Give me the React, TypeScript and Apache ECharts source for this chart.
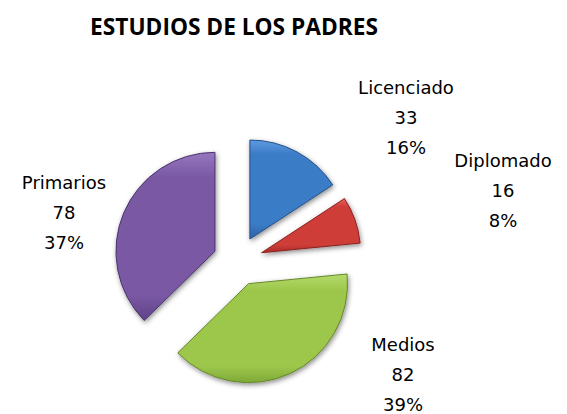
import React, { useEffect, useRef } from "react";
import * as echarts from "echarts";

const titleText = "ESTUDIOS DE LOS PADRES";
const categories = ["Licenciado", "Diplomado", "Medios", "Primarios"];
const values = [33, 16, 82, 78];
const baseColors = ["#3B7BC6", "#CF3D39", "#9CC74B", "#7A58A4"];
const lightColors = ["#5E9AE0", "#E8625E", "#B5DB6C", "#9677BF"];
const darkColors = ["#2C62A6", "#A92C29", "#7FA838", "#5F4288"];
const borderColors = ["#24508A", "#8A2220", "#66882A", "#4B346C"];

// label anchor positions (layout only)
const labelPos: [number, number][] = [
  [406, 117],
  [503, 190],
  [403, 374],
  [64, 212],
];

function percents(vals: number[]): number[] {
  const total = vals.reduce((a, b) => a + b, 0);
  const raw = vals.map((v) => (v / total) * 100);
  const floors = raw.map((r) => Math.floor(r));
  const rest = 100 - floors.reduce((a, b) => a + b, 0);
  const order = raw
    .map((r, i) => ({ i, rem: r - Math.floor(r) }))
    .sort((a, b) => b.rem - a.rem);
  for (let k = 0; k < rest; k++) floors[order[k].i] += 1;
  return floors;
}

export default function App() {
  const ref = useRef<HTMLDivElement>(null);
  useEffect(() => {
    if (!ref.current) return;
    const chart = echarts.init(ref.current, null, { renderer: "svg" });
    const pct = percents(values);
    const data = categories.map((name, i) => ({
      name,
      value: values[i],
      selected: true,
      itemStyle: {
        color: {
          type: "linear",
          x: 0,
          y: 0,
          x2: 0,
          y2: 1,
          colorStops: [
            { offset: 0, color: lightColors[i] },
            { offset: 0.15, color: baseColors[i] },
            { offset: 0.85, color: baseColors[i] },
            { offset: 1, color: darkColors[i] },
          ],
        },
        borderColor: borderColors[i],
        borderWidth: 1,
        shadowBlur: 5,
        shadowColor: "rgba(0,0,0,0.45)",
        shadowOffsetX: 1,
        shadowOffsetY: 2,
      },
    }));
    const labels = categories.map((name, i) => ({
      type: "text",
      x: labelPos[i][0],
      y: labelPos[i][1],
      style: {
        text: `${name}\n${values[i]}\n${pct[i]}%`,
        fontFamily: "DejaVu Sans",
        fontSize: 18,
        lineHeight: 30,
        fill: "#000000",
        align: "center",
        verticalAlign: "middle",
      },
    }));
    chart.setOption({
      animation: false,
      backgroundColor: "#ffffff",
      title: {
        text: titleText,
        left: 229,
        top: 10,
        textAlign: "center",
        textStyle: {
          fontFamily: "Open Sans",
          fontWeight: "bold",
          fontSize: 22.7,
          color: "#000000",
        },
      },
      graphic: labels,
      series: [
        {
          type: "pie",
          center: [238, 261],
          radius: 99,
          startAngle: 90,
          clockwise: true,
          selectedMode: "multiple",
          selectedOffset: 25,
          emphasis: { disabled: true },
          label: { show: false },
          labelLine: { show: false },
          data,
        },
      ],
    });
    return () => chart.dispose();
  }, []);
  return (
    <div
      ref={ref}
      style={{ position: "fixed", left: 0, top: 0, width: 567, height: 414 }}
    />
  );
}
